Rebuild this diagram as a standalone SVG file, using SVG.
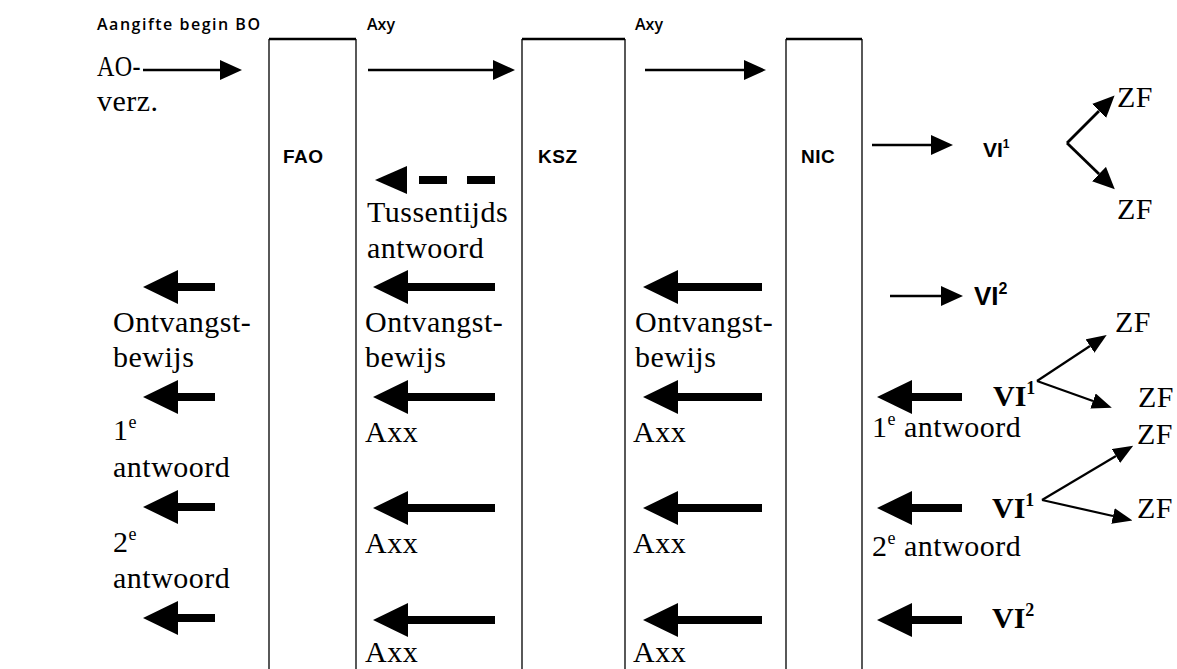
<svg xmlns="http://www.w3.org/2000/svg" width="1177" height="669" viewBox="0 0 1177 669">
  <style>
    .bg { fill: #ffffff; }
    .col { fill: none; stroke: #000; stroke-width: 1.3; }
    .cap { stroke: #000; stroke-width: 2.4; }
    .lbl { font-family: "Liberation Sans", Arial, sans-serif; font-weight: bold; font-size: 19px; letter-spacing: 0.5px; fill: #000; }
    .sans-vi { font-family: "Liberation Sans", Arial, sans-serif; font-weight: bold; fill: #000; }
    .vi-s { font-size: 21px; }
    .vi-l { font-size: 26px; }
    .sup-s { font-size: 12px; }
    .sup-l { font-size: 16px; }
    .small { font-family: "Open Sans", "Liberation Sans", sans-serif; font-weight: 600; font-size: 16px; fill: #000; }
    .txt { font-family: "Liberation Serif", "Times New Roman", serif; font-size: 30px; letter-spacing: 0.5px; fill: #000; }
    .vi { font-family: "Liberation Serif", "Times New Roman", serif; font-size: 30px; font-weight: bold; fill: #000; }
    .sup { font-size: 18px; }
    .thin { stroke: #000; stroke-width: 2.6; fill: none; marker-end: url(#thinHead); }
    .big { stroke: #000; stroke-width: 8; fill: none; marker-end: url(#bigHead); }
    .dash { stroke: #000; stroke-width: 8; fill: none; stroke-dasharray: 28 20; marker-end: url(#dashHead); }
    .diag { stroke: #000; stroke-width: 2.2; fill: none; marker-end: url(#diagHead); }
    .diag-b { stroke: #000; stroke-width: 2.8; fill: none; marker-end: url(#diagHeadB); }
  </style>
  <defs>
    <marker id="thinHead" markerUnits="userSpaceOnUse" viewBox="0 0 22 20" markerWidth="22" markerHeight="20" refX="0" refY="10" orient="auto">
      <path d="M0,0 L22,10 L0,20 Z" fill="#000"/>
    </marker>
    <marker id="bigHead" markerUnits="userSpaceOnUse" viewBox="0 0 35 34" markerWidth="35" markerHeight="34" refX="0" refY="17" orient="auto">
      <path d="M0,0 L35,17 L0,34 Z" fill="#000"/>
    </marker>
    <marker id="dashHead" markerUnits="userSpaceOnUse" viewBox="0 0 32 28" markerWidth="32" markerHeight="28" refX="0" refY="14" orient="auto">
      <path d="M0,0 L32,14 L0,28 Z" fill="#000"/>
    </marker>
    <marker id="diagHead" markerUnits="userSpaceOnUse" viewBox="0 0 20 16" markerWidth="20" markerHeight="16" refX="0" refY="8" orient="auto">
      <path d="M0,0 L20,8 L0,16 Z" fill="#000"/>
    </marker>
    <marker id="diagHeadB" markerUnits="userSpaceOnUse" viewBox="0 0 22 20" markerWidth="22" markerHeight="20" refX="0" refY="10" orient="auto">
      <path d="M0,0 L22,10 L0,20 Z" fill="#000"/>
    </marker>
  </defs>

  <rect class="bg" x="0" y="0" width="1177" height="669"/>

  <!-- columns -->
  <g id="fao">
    <path class="col" d="M269,669 V39 M356,39 V669"/>
    <line class="cap" x1="269" y1="39" x2="356" y2="39"/>
    <text class="lbl" x="283" y="163">FAO</text>
  </g>
  <g id="ksz">
    <path class="col" d="M522,669 V39 M625,39 V669"/>
    <line class="cap" x1="522" y1="39" x2="625" y2="39"/>
    <text class="lbl" x="538" y="163">KSZ</text>
  </g>
  <g id="nic">
    <path class="col" d="M786,669 V39 M862,39 V669"/>
    <line class="cap" x1="786" y1="39" x2="862" y2="39"/>
    <text class="lbl" x="801" y="163">NIC</text>
  </g>

  <!-- connectors -->
  <g id="connectors">
    <!-- forward requests -->
    <line class="thin" x1="143" y1="70" x2="220" y2="70"/>
    <line class="thin" x1="368" y1="70" x2="493" y2="70"/>
    <line class="thin" x1="645" y1="70" x2="744" y2="70"/>
    <line class="thin" x1="872" y1="145" x2="931" y2="145"/>
    <line class="thin" x1="890" y1="296" x2="941" y2="296"/>
    <!-- interim reply -->
    <line class="dash" x1="495" y1="180" x2="407" y2="180"/>
    <!-- replies, FAO side -->
    <line class="big" x1="215" y1="287" x2="178" y2="287"/>
    <line class="big" x1="215" y1="397" x2="178" y2="397"/>
    <line class="big" x1="215" y1="507" x2="178" y2="507"/>
    <line class="big" x1="215" y1="618" x2="178" y2="618"/>
    <!-- replies, KSZ -> FAO -->
    <line class="big" x1="495" y1="287" x2="408" y2="287"/>
    <line class="big" x1="495" y1="397" x2="408" y2="397"/>
    <line class="big" x1="495" y1="508" x2="408" y2="508"/>
    <line class="big" x1="495" y1="620" x2="408" y2="620"/>
    <!-- replies, NIC -> KSZ -->
    <line class="big" x1="762" y1="287" x2="678" y2="287"/>
    <line class="big" x1="762" y1="397" x2="678" y2="397"/>
    <line class="big" x1="762" y1="508" x2="678" y2="508"/>
    <line class="big" x1="762" y1="620" x2="678" y2="620"/>
    <!-- replies, VI -> NIC -->
    <line class="big" x1="962" y1="397" x2="912" y2="397"/>
    <line class="big" x1="962" y1="508" x2="912" y2="508"/>
    <line class="big" x1="962" y1="620" x2="912" y2="620"/>
    <!-- VI -> ZF fan-outs -->
    <line class="diag-b" x1="1067" y1="143" x2="1099" y2="111"/>
    <line class="diag-b" x1="1067" y1="143" x2="1099" y2="174"/>
    <line class="diag" x1="1037" y1="381" x2="1090" y2="346"/>
    <line class="diag" x1="1037" y1="381" x2="1093" y2="401"/>
    <line class="diag" x1="1042" y1="500" x2="1116" y2="456"/>
    <line class="diag" x1="1042" y1="500" x2="1113" y2="516"/>
  </g>

  <!-- labels -->
  <g id="labels">
    <text class="small" x="97" y="30" textLength="163">Aangifte begin BO</text>
    <text class="small" x="367" y="30">Axy</text>
    <text class="small" x="635" y="30">Axy</text>

    <text class="txt" x="97" y="76" textLength="44" lengthAdjust="spacingAndGlyphs">AO-</text>
    <text class="txt" x="97" y="111">verz.</text>

    <text class="txt" x="367" y="222">Tussentijds</text>
    <text class="txt" x="367" y="258">antwoord</text>

    <text class="txt" x="113" y="332">Ontvangst-</text>
    <text class="txt" x="113" y="367">bewijs</text>
    <text class="txt" x="365" y="332">Ontvangst-</text>
    <text class="txt" x="365" y="367">bewijs</text>
    <text class="txt" x="635" y="332">Ontvangst-</text>
    <text class="txt" x="635" y="367">bewijs</text>

    <text class="txt" x="113" y="440">1<tspan class="sup" dy="-12">e</tspan></text>
    <text class="txt" x="113" y="477">antwoord</text>
    <text class="txt" x="113" y="552">2<tspan class="sup" dy="-12">e</tspan></text>
    <text class="txt" x="113" y="588">antwoord</text>

    <text class="txt" x="365" y="442">Axx</text>
    <text class="txt" x="365" y="553">Axx</text>
    <text class="txt" x="365" y="662">Axx</text>
    <text class="txt" x="633" y="442">Axx</text>
    <text class="txt" x="633" y="553">Axx</text>
    <text class="txt" x="633" y="662">Axx</text>

    <text class="txt" x="872" y="437">1<tspan class="sup" dy="-12">e</tspan><tspan dy="12"> antwoord</tspan></text>
    <text class="txt" x="872" y="556">2<tspan class="sup" dy="-12">e</tspan><tspan dy="12"> antwoord</tspan></text>
  </g>

  <!-- recipients -->
  <g id="vi-1a">
    <text class="sans-vi vi-s" x="983" y="157">VI<tspan class="sup-s" dy="-9">1</tspan></text>
  </g>
  <g id="zf-1a"><text class="txt" x="1117" y="107">ZF</text></g>
  <g id="zf-1b"><text class="txt" x="1117" y="219">ZF</text></g>

  <g id="vi-2a">
    <text class="sans-vi vi-l" x="974" y="305">VI<tspan class="sup-l" dy="-11">2</tspan></text>
  </g>
  <g id="zf-2a"><text class="txt" x="1115" y="332">ZF</text></g>

  <g id="vi-1b">
    <text class="vi" x="993" y="406">VI<tspan class="sup" dy="-12">1</tspan></text>
  </g>
  <g id="zf-2b"><text class="txt" x="1138" y="407">ZF</text></g>
  <g id="zf-3a"><text class="txt" x="1137" y="444">ZF</text></g>

  <g id="vi-1c">
    <text class="vi" x="992" y="518">VI<tspan class="sup" dy="-12">1</tspan></text>
  </g>
  <g id="zf-3b"><text class="txt" x="1137" y="518">ZF</text></g>

  <g id="vi-2b">
    <text class="vi" x="992" y="628">VI<tspan class="sup" dy="-12">2</tspan></text>
  </g>
</svg>
